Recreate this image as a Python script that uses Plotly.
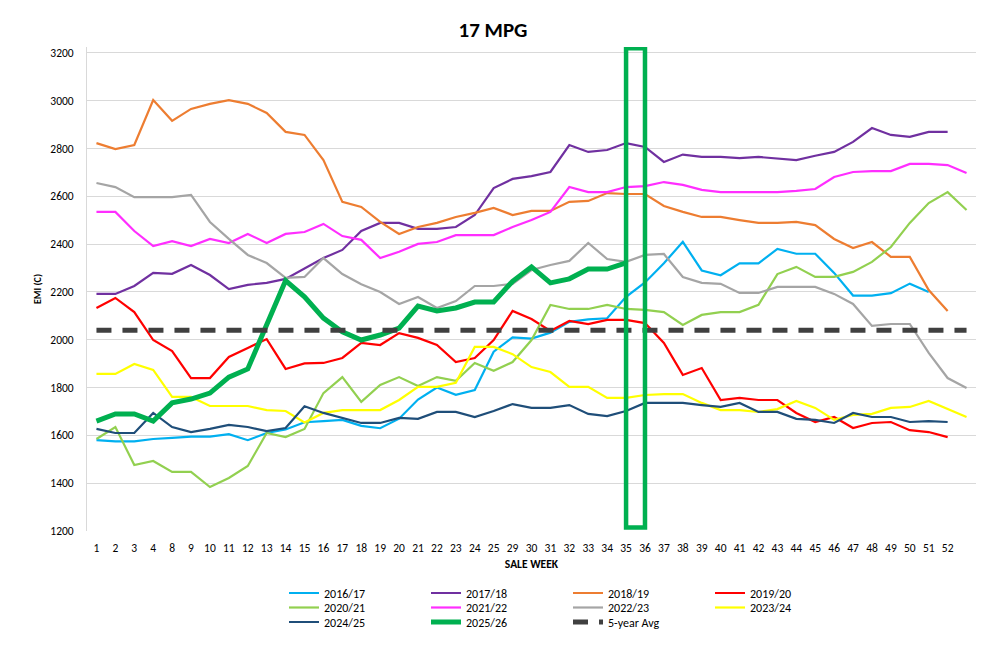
import plotly.graph_objects as go

# ---------------- data ----------------
sale_weeks = ["1", "2", "3", "4", "8", "9", "10", "11", "12", "13", "14", "15", "16", "17",
              "18", "19", "20", "21", "22", "23", "24", "25", "29", "30", "31", "32", "33",
              "34", "35", "36", "37", "38", "39", "40", "41", "42", "43", "44", "45", "46",
              "47", "48", "49", "50", "51", "52", "53"]
tick_labels = sale_weeks[:-1]  # last category shown without a label

s2016_17 = [1580, 1575, 1575, 1585, 1590, 1595, 1595, 1605, 1580, 1610, 1625, 1655, 1660, 1665,
            1640, 1630, 1670, 1750, 1800, 1770, 1790, 1950, 2010, 2005, 2030, 2075, 2085, 2090,
            2180, 2240, 2320, 2410, 2290, 2270, 2320, 2320, 2380, 2360, 2360, 2280, 2185, 2185,
            2195, 2235, 2200]
s2017_18 = [2192, 2192, 2225, 2280, 2276, 2313, 2271, 2212, 2230, 2238, 2255, 2300, 2342, 2376,
            2455, 2489, 2489, 2464, 2464, 2472, 2522, 2635, 2673, 2685, 2702, 2815, 2786, 2794,
            2823, 2807, 2744, 2775, 2765, 2765, 2760, 2765, 2760, 2752, 2770, 2786, 2828, 2886,
            2857, 2849, 2870, 2870]
s2018_19 = [2823, 2798, 2815, 3003, 2916, 2966, 2987, 3003, 2987, 2949, 2870, 2857, 2752, 2577,
            2556, 2493, 2443, 2472, 2489, 2514, 2531, 2552, 2522, 2539, 2539, 2577, 2581, 2614,
            2610, 2610, 2560, 2535, 2514, 2514, 2501, 2489, 2489, 2493, 2480, 2422, 2384, 2409,
            2347, 2347, 2208, 2120]
s2019_20 = [2133, 2175, 2116, 1999, 1953, 1840, 1840, 1928, 1966, 2003, 1878, 1901, 1903, 1924,
            1987, 1978, 2028, 2008, 1978, 1907, 1924, 1999, 2121, 2087, 2037, 2079, 2066, 2083,
            2083, 2070, 1987, 1853, 1882, 1748, 1757, 1748, 1748, 1694, 1656, 1677, 1631, 1652,
            1656, 1622, 1614, 1593]
s2020_21 = [1585, 1635, 1476, 1493, 1447, 1447, 1384, 1422, 1472, 1610, 1593, 1627, 1777, 1844,
            1740, 1811, 1844, 1807, 1844, 1828, 1903, 1870, 1907, 1999, 2146, 2129, 2129, 2146,
            2129, 2125, 2116, 2062, 2104, 2116, 2116, 2146, 2275, 2305, 2263, 2263, 2284, 2326,
            2388, 2489, 2572, 2618, 2543]
s2021_22 = [2535, 2535, 2455, 2392, 2413, 2392, 2422, 2405, 2443, 2405, 2443, 2451, 2485, 2434,
            2418, 2342, 2368, 2401, 2409, 2438, 2438, 2438, 2472, 2501, 2535, 2639, 2618, 2618,
            2639, 2643, 2660, 2648, 2627, 2618, 2618, 2618, 2618, 2623, 2631, 2681, 2702, 2706,
            2706, 2736, 2736, 2731, 2698]
s2022_23 = [2656, 2639, 2597, 2597, 2597, 2606, 2493, 2422, 2355, 2321, 2259, 2263, 2342, 2275,
            2232, 2200, 2150, 2179, 2133, 2162, 2225, 2225, 2234, 2292, 2313, 2330, 2405, 2338,
            2326, 2355, 2359, 2263, 2238, 2234, 2196, 2196, 2221, 2221, 2221, 2192, 2150, 2058,
            2066, 2066, 1945, 1840, 1798]
s2023_24 = [1857, 1857, 1899, 1874, 1761, 1761, 1723, 1723, 1723, 1706, 1702, 1654, 1694, 1706,
            1706, 1706, 1748, 1803, 1803, 1820, 1970, 1970, 1940, 1886, 1865, 1803, 1803, 1757,
            1757, 1769, 1773, 1773, 1736, 1706, 1706, 1698, 1710, 1744, 1715, 1665, 1686, 1690,
            1715, 1719, 1744, 1710, 1677]
s2024_25 = [1627, 1610, 1610, 1694, 1635, 1614, 1627, 1644, 1635, 1618, 1631, 1722, 1694, 1673,
            1652, 1652, 1673, 1669, 1698, 1698, 1677, 1702, 1731, 1715, 1715, 1727, 1690, 1681,
            1702, 1736, 1736, 1736, 1727, 1719, 1736, 1698, 1698, 1669, 1665, 1652, 1694, 1677,
            1677, 1656, 1660, 1656]
s2025_26 = [1660, 1690, 1690, 1660, 1736, 1752, 1777, 1844, 1878, 2062, 2248, 2180, 2091, 2033,
            1999, 2020, 2049, 2141, 2121, 2133, 2158, 2158, 2245, 2305, 2238, 2255, 2296, 2296,
            2322]
five_year_avg = [2040, 2040, 2040, 2040, 2040, 2040, 2040, 2040, 2040, 2040, 2040, 2040, 2040,
                 2040, 2040, 2040, 2040, 2040, 2040, 2040, 2040, 2040, 2040, 2040, 2040, 2040,
                 2040, 2040, 2040, 2040, 2040, 2040, 2040, 2040, 2040, 2040, 2040, 2040, 2040,
                 2040, 2040, 2040, 2040, 2040, 2040, 2040, 2040]

highlight_weeks = ["35", "36"]
highlight_range = [1215, 3220]

FONT = "Carlito, Calibri, Lato, sans-serif"

series = [
    ("2016/17", s2016_17, "#00B0F0", 2.2, "solid", "legend"),
    ("2017/18", s2017_18, "#7030A0", 2.2, "solid", "legend"),
    ("2018/19", s2018_19, "#ED7D31", 2.2, "solid", "legend"),
    ("2019/20", s2019_20, "#FF0000", 2.2, "solid", "legend"),
    ("2020/21", s2020_21, "#92D050", 2.2, "solid", "legend2"),
    ("2021/22", s2021_22, "#FF2EFF", 2.2, "solid", "legend2"),
    ("2022/23", s2022_23, "#A5A5A5", 2.2, "solid", "legend2"),
    ("2023/24", s2023_24, "#FFFF00", 2.2, "solid", "legend2"),
    ("2024/25", s2024_25, "#1F4E79", 2.2, "solid", "legend3"),
    ("2025/26", s2025_26, "#00B050", 5, "solid", "legend3"),
    ("5-year Avg", five_year_avg, "#404040", 5, "15px,11px", "legend3"),
]

fig = go.Figure()
for name, vals, color, width, dash, leg in series:
    fig.add_trace(go.Scatter(
        x=sale_weeks[:len(vals)], y=vals, name=name, mode="lines",
        line=dict(color=color, width=width, dash=dash),
        legend=leg,
    ))

x0 = sale_weeks.index(highlight_weeks[0])
x1 = sale_weeks.index(highlight_weeks[1])
fig.add_shape(type="rect", xref="x", yref="y", x0=x0, x1=x1,
              y0=highlight_range[0], y1=highlight_range[1],
              line=dict(color="#00B050", width=4.5), fillcolor="rgba(0,0,0,0)", layer="above")

leg_common = dict(orientation="h", xanchor="left", yanchor="middle",
                  entrywidth=97, entrywidthmode="pixels",
                  font=dict(family=FONT, size=12, color="#000000"),
                  bgcolor="rgba(0,0,0,0)", tracegroupgap=0, itemwidth=30)

# page renders the figure with an 8px body offset; margins compensate
fig.update_layout(
    width=987, height=648,
    paper_bgcolor="white", plot_bgcolor="white",
    margin=dict(l=79, r=19, t=39, b=125, autoexpand=False),
    font=dict(family=FONT, size=11, color="#000000"),
    title=dict(text="<b>17 MPG</b>", x=485 / 987, xanchor="center",
               y=1 - 22 / 648, yanchor="middle",
               font=dict(family=FONT, size=21, color="#000000")),
    xaxis=dict(
        type="category", categoryorder="array", categoryarray=sale_weeks,
        range=[-0.5, len(sale_weeks) - 0.5],
        tickmode="array", tickvals=tick_labels, ticktext=tick_labels,
        showgrid=False, zeroline=False, showline=False,
        ticks="outside", ticklen=6, tickcolor="rgba(0,0,0,0)",
        tickfont=dict(family=FONT, size=11.5, color="#000000"),
        title=dict(text="<b>SALE WEEK</b>", standoff=6,
                   font=dict(family=FONT, size=11.5, color="#000000")),
        automargin=False,
    ),
    yaxis=dict(
        range=[1200, 3225], tickmode="array",
        tickvals=[1200, 1400, 1600, 1800, 2000, 2200, 2400, 2600, 2800, 3000, 3200],
        showgrid=True, gridcolor="#D9D9D9", gridwidth=1,
        zeroline=False, showline=True, linecolor="#D9D9D9", linewidth=1,
        ticks="outside", ticklen=10, tickcolor="rgba(0,0,0,0)",
        tickfont=dict(family=FONT, size=11.5, color="#000000"),
        title=dict(text="<b>EMI (C)</b>", standoff=6,
                   font=dict(family=FONT, size=10, color="#000000")),
        automargin=False,
    ),
    legend=dict(x=197 / 889, y=(531 - 593) / 484, **leg_common),
    legend2=dict(x=197 / 889, y=(531 - 607.5) / 484, **leg_common),
    legend3=dict(x=197 / 889, y=(531 - 622) / 484, **leg_common),
    showlegend=True,
)

fig.write_html("out.html")
